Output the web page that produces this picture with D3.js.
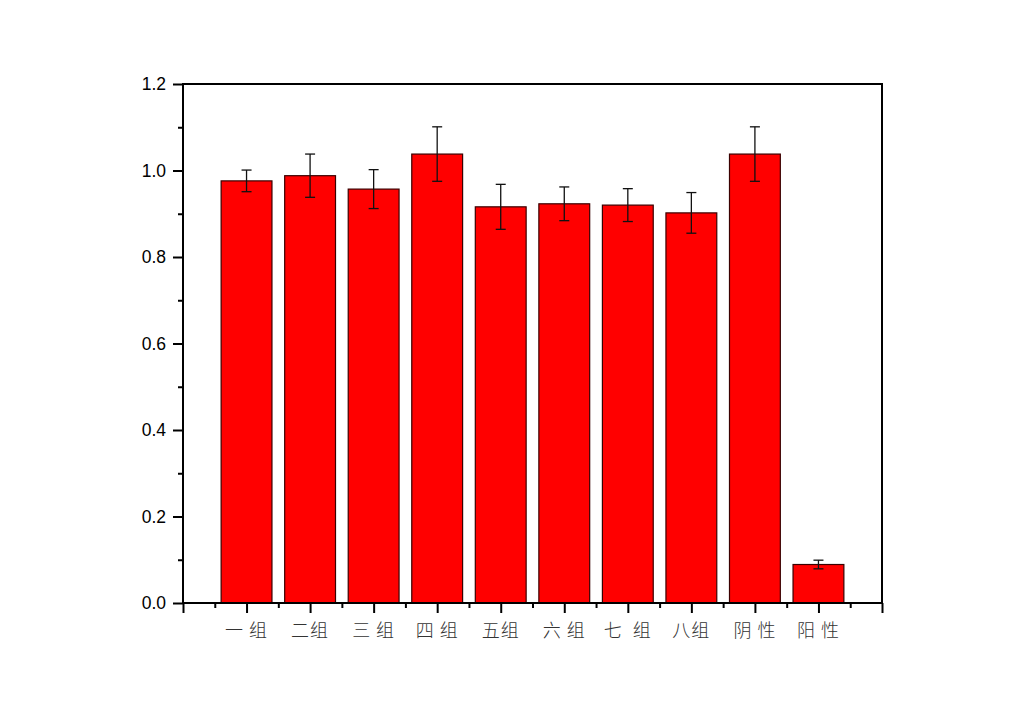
<!DOCTYPE html>
<html>
<head>
<meta charset="utf-8">
<script src="https://d3js.org/d3.v7.min.js"></script>
<style>
  body { margin: 0; background: #fff; }
</style>
</head>
<body>
<div id="chart"></div>
<script>
// data
var groups = ["一 组", "二组", "三 组", "四 组", "五组", "六 组", "七  组", "八组", "阴 性", "阳 性"];
var means  = [0.976, 0.988, 0.957, 1.038, 0.916, 0.923, 0.920, 0.902, 1.038, 0.089];
var errs   = [0.025, 0.050, 0.045, 0.063, 0.052, 0.039, 0.038, 0.047, 0.063, 0.010];
var yTicks = [0.0, 0.2, 0.4, 0.6, 0.8, 1.0, 1.2];

var W = 1024, H = 723;
var plotL = 183, plotR = 882, plotT = 84, plotB = 603;

var svg = d3.select("#chart").append("svg")
    .attr("width", W).attr("height", H);

var x = d3.scaleLinear().domain([0, groups.length + 1]).range([plotL, plotR]);
var y = d3.scaleLinear().domain([0, 1.2]).range([plotB, plotT]);
var bw = (x(1) - x(0)) * 0.8;

// bars
svg.selectAll("rect.bar")
    .data(means)
  .enter().append("rect")
    .attr("class", "bar")
    .attr("x", function (d, i) { return x(i + 1) - bw / 2; })
    .attr("y", function (d) { return y(d); })
    .attr("width", bw)
    .attr("height", function (d) { return y(0) - y(d); })
    .style("fill", "#ff0000")
    .style("stroke", "#3a0000")
    .style("stroke-width", 1.2);

// error bars
var eb = svg.selectAll("g.err")
    .data(means)
  .enter().append("g")
    .attr("class", "err")
    .style("stroke", "#111")
    .style("stroke-width", 1.3);
eb.append("line")
    .attr("x1", function (d, i) { return x(i + 1); })
    .attr("x2", function (d, i) { return x(i + 1); })
    .attr("y1", function (d, i) { return y(d + errs[i]); })
    .attr("y2", function (d, i) { return y(d - errs[i]); });
[1, -1].forEach(function (s) {
  eb.append("line")
      .attr("x1", function (d, i) { return x(i + 1) - 5; })
      .attr("x2", function (d, i) { return x(i + 1) + 5; })
      .attr("y1", function (d, i) { return y(d + s * errs[i]); })
      .attr("y2", function (d, i) { return y(d + s * errs[i]); });
});

// y axis, major and minor ticks
var yAxis = svg.append("g")
    .attr("transform", "translate(" + plotL + ",0)")
    .call(d3.axisLeft(y).tickValues(yTicks).tickFormat(d3.format(".1f")).tickSize(10).tickPadding(7));
svg.append("g")
    .attr("transform", "translate(" + plotL + ",0)")
    .call(d3.axisLeft(y).tickValues(d3.range(0.1, 1.2, 0.2)).tickFormat("").tickSize(5));

// x axis, major and minor ticks
var xMajor = d3.range(0, groups.length + 2);
svg.append("g")
    .attr("transform", "translate(0," + plotB + ")")
    .call(d3.axisBottom(x).tickValues(xMajor).tickFormat("").tickSize(10));
svg.append("g")
    .attr("transform", "translate(0," + plotB + ")")
    .call(d3.axisBottom(x).tickValues(d3.range(0.5, groups.length + 1, 1)).tickFormat("").tickSize(5));

svg.selectAll(".domain").remove();
svg.selectAll(".tick line").style("stroke", "#000").style("stroke-width", 2);
yAxis.selectAll("text")
    .style("font-family", "Arial, 'Liberation Sans', sans-serif")
    .style("font-size", "17.5px")
    .style("fill", "#000");

// category labels
svg.selectAll("text.cat")
    .data(groups)
  .enter().append("text")
    .attr("class", "cat")
    .attr("x", function (d, i) { return x(i + 1); })
    .attr("y", 637)
    .attr("text-anchor", "middle")
    .style("white-space", "pre")
    .style("font-family", "'Noto Sans CJK SC', sans-serif")
    .style("font-size", "18px")
    .style("letter-spacing", "1px")
    .style("font-weight", "300")
    .style("fill", "#333")
    .text(function (d) { return d; });

// frame
svg.append("rect")
    .attr("x", plotL).attr("y", plotT)
    .attr("width", plotR - plotL).attr("height", plotB - plotT)
    .style("fill", "none")
    .style("stroke", "#000")
    .style("stroke-width", 2);
</script>
</body>
</html>
